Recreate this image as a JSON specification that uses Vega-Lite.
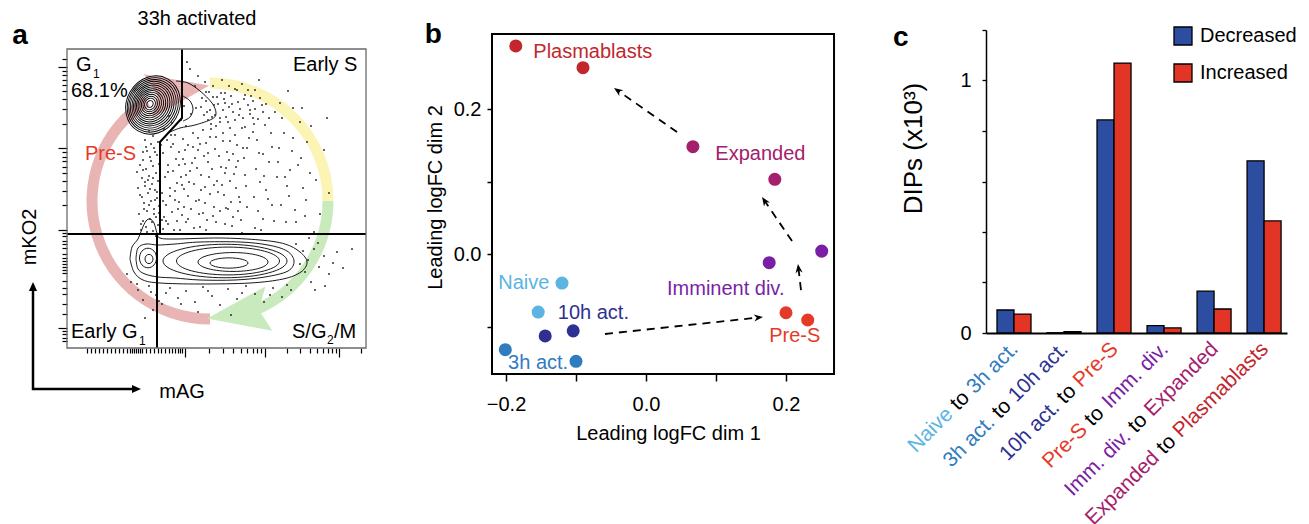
{
"$schema": "https://vega.github.io/schema/vega-lite/v6.json",
"padding": {"left": 12, "top": 8, "right": 5, "bottom": 5},
"bounds": "flush",
"spacing": 126,
"config": {"font": "Liberation Sans", "view": {"stroke": null},
  "axis": {"labelColor": "black", "titleColor": "black", "tickColor": "black", "domainColor": "black", "grid": false, "titleFontWeight": "normal", "labelFontSize": 20, "titleFontSize": 20}},
"resolve": {"scale": {"color": "independent", "fill": "independent", "shape": "independent", "size": "independent", "angle": "independent"}},
"datasets": {
 "a_arcs": [{"x":143,"y":147,"phase":"pre","t0":3.1416,"t1":5.72},{"x":143,"y":147,"phase":"s","t0":0,"t1":1.5708},{"x":143,"y":147,"phase":"g2","t0":1.5708,"t1":2.75}],
 "a_heads": [{"x":111.5,"y":257,"phase":"pre","ang":350},{"x":171,"y":34.5,"phase":"g2","ang":171}],
 "a_ell": [
  {"x":86,"y":243,"w":60,"kind":"g1","ang":300},{"x":85.8,"y":243.1,"w":56,"kind":"g1","ang":300},{"x":85.5,"y":243.2,"w":52,"kind":"g1","ang":300},{"x":85.2,"y":243.3,"w":48,"kind":"g1","ang":300},{"x":85,"y":243.4,"w":44,"kind":"g1","ang":300},{"x":84.7,"y":243.5,"w":40,"kind":"g1","ang":300},{"x":84.4,"y":243.6,"w":36,"kind":"g1","ang":300},{"x":84.1,"y":243.7,"w":32,"kind":"g1","ang":300},{"x":83.8,"y":243.8,"w":28,"kind":"g1","ang":300},{"x":83.6,"y":243.9,"w":24,"kind":"g1","ang":300},{"x":83.4,"y":244,"w":20,"kind":"g1","ang":300},{"x":83.2,"y":244,"w":16,"kind":"g1","ang":300},{"x":83,"y":244,"w":12,"kind":"g1","ang":300},{"x":83,"y":244,"w":7,"kind":"g1","ang":300},
  {"x":162,"y":85,"w":38,"kind":"flat","ang":0},{"x":166,"y":86,"w":70,"kind":"flat","ang":0},{"x":161,"y":87,"w":103,"kind":"flat","ang":0},{"x":158,"y":87,"w":124,"kind":"flat","ang":0},
  {"x":82,"y":89,"w":8,"kind":"tall","ang":0},{"x":81,"y":90,"w":17,"kind":"tall","ang":0}],
 "a_cont": [
  {"id":"l1","k":0,"x":109,"y":267},{"id":"l1","k":1,"x":121,"y":265},{"id":"l1","k":2,"x":133,"y":257},{"id":"l1","k":3,"x":145,"y":245},{"id":"l1","k":4,"x":149,"y":235},{"id":"l1","k":5,"x":145,"y":229},{"id":"l1","k":6,"x":128,"y":223},{"id":"l1","k":7,"x":113,"y":220},{"id":"l1","k":8,"x":101,"y":215},
  {"id":"l2","k":0,"x":116,"y":252},{"id":"l2","k":1,"x":123,"y":247},{"id":"l2","k":2,"x":126,"y":239},{"id":"l2","k":3,"x":123,"y":231},{"id":"l2","k":4,"x":116,"y":227},
  {"id":"e1","k":0,"x":69,"y":89},{"id":"e1","k":1,"x":71,"y":100},{"id":"e1","k":2,"x":79,"y":104},{"id":"e1","k":3,"x":91,"y":103},{"id":"e1","k":4,"x":108,"y":104},{"id":"e1","k":5,"x":133,"y":106},{"id":"e1","k":6,"x":173,"y":106},{"id":"e1","k":7,"x":201,"y":103},{"id":"e1","k":8,"x":220,"y":97},{"id":"e1","k":9,"x":227,"y":87},{"id":"e1","k":10,"x":221,"y":77},{"id":"e1","k":11,"x":198,"y":71},{"id":"e1","k":12,"x":168,"y":68},{"id":"e1","k":13,"x":133,"y":68},{"id":"e1","k":14,"x":108,"y":70},{"id":"e1","k":15,"x":91,"y":71},{"id":"e1","k":16,"x":78,"y":74},{"id":"e1","k":17,"x":71,"y":79},{"id":"e1","k":18,"x":69,"y":89},
  {"id":"e2","k":0,"x":63,"y":89},{"id":"e2","k":1,"x":65,"y":101},{"id":"e2","k":2,"x":71,"y":109},{"id":"e2","k":3,"x":75,"y":119},{"id":"e2","k":4,"x":79,"y":127},{"id":"e2","k":5,"x":83,"y":129},{"id":"e2","k":6,"x":87,"y":125},{"id":"e2","k":7,"x":90,"y":115},{"id":"e2","k":8,"x":93,"y":110},{"id":"e2","k":9,"x":108,"y":109},{"id":"e2","k":10,"x":153,"y":110},{"id":"e2","k":11,"x":193,"y":108},{"id":"e2","k":12,"x":218,"y":104},{"id":"e2","k":13,"x":233,"y":96},{"id":"e2","k":14,"x":240,"y":86},{"id":"e2","k":15,"x":234,"y":76},{"id":"e2","k":16,"x":216,"y":69},{"id":"e2","k":17,"x":183,"y":65},{"id":"e2","k":18,"x":133,"y":64},{"id":"e2","k":19,"x":93,"y":65},{"id":"e2","k":20,"x":76,"y":68},{"id":"e2","k":21,"x":67,"y":76},{"id":"e2","k":22,"x":63,"y":89}],
 "a_dots": [
  {"x":74,"y":118},{"x":79,"y":121},{"x":86,"y":117},{"x":91,"y":123},{"x":76,"y":127},{"x":83,"y":129},{"x":89,"y":131},{"x":72,"y":134},{"x":80,"y":137},{"x":87,"y":139},{"x":92,"y":142},{"x":77,"y":145},{"x":84,"y":147},{"x":90,"y":150},{"x":73,"y":153},{"x":81,"y":155},{"x":88,"y":158},{"x":78,"y":162},{"x":85,"y":164},{"x":91,"y":167},{"x":75,"y":170},{"x":82,"y":172},{"x":89,"y":175},{"x":79,"y":179},{"x":86,"y":182},{"x":92,"y":184},{"x":76,"y":188},{"x":83,"y":191},{"x":90,"y":193},{"x":80,"y":197},{"x":87,"y":200},{"x":84,"y":204},{"x":78,"y":208},{"x":91,"y":206},{"x":71,"y":160},{"x":70,"y":176},{"x":93,"y":160},{"x":93,"y":196},{"x":86,"y":212},{"x":82,"y":217},
  {"x":96,"y":119},{"x":101,"y":124},{"x":97,"y":131},{"x":105,"y":136},{"x":99,"y":143},{"x":108,"y":148},{"x":95,"y":155},{"x":103,"y":160},{"x":110,"y":165},{"x":98,"y":171},{"x":106,"y":177},{"x":101,"y":183},{"x":109,"y":189},{"x":96,"y":195},{"x":104,"y":201},{"x":100,"y":208},{"x":108,"y":213},{"x":97,"y":219},{"x":105,"y":225},{"x":102,"y":232},
  {"x":113,"y":118},{"x":119,"y":126},{"x":115,"y":133},{"x":124,"y":139},{"x":112,"y":146},{"x":121,"y":152},{"x":117,"y":159},{"x":127,"y":164},{"x":114,"y":171},{"x":123,"y":177},{"x":118,"y":184},{"x":128,"y":190},{"x":112,"y":196},{"x":121,"y":203},{"x":116,"y":209},{"x":126,"y":215},{"x":119,"y":222},{"x":114,"y":228},{"x":124,"y":234},{"x":129,"y":240},{"x":117,"y":242},
  {"x":133,"y":121},{"x":140,"y":128},{"x":136,"y":135},{"x":147,"y":141},{"x":132,"y":148},{"x":143,"y":154},{"x":138,"y":161},{"x":150,"y":167},{"x":134,"y":173},{"x":145,"y":179},{"x":141,"y":186},{"x":152,"y":192},{"x":131,"y":198},{"x":139,"y":205},{"x":149,"y":211},{"x":136,"y":218},{"x":144,"y":224},{"x":153,"y":230},{"x":140,"y":236},{"x":147,"y":243},{"x":135,"y":250},{"x":142,"y":256},{"x":150,"y":251},
  {"x":158,"y":124},{"x":166,"y":131},{"x":161,"y":139},{"x":173,"y":146},{"x":157,"y":153},{"x":169,"y":160},{"x":163,"y":167},{"x":178,"y":173},{"x":159,"y":180},{"x":171,"y":187},{"x":166,"y":194},{"x":180,"y":200},{"x":156,"y":207},{"x":168,"y":213},{"x":175,"y":220},{"x":161,"y":226},{"x":172,"y":233},{"x":183,"y":238},{"x":165,"y":244},{"x":177,"y":249},{"x":158,"y":255},{"x":170,"y":258},{"x":184,"y":252},
  {"x":188,"y":120},{"x":196,"y":129},{"x":191,"y":137},{"x":205,"y":143},{"x":187,"y":151},{"x":199,"y":158},{"x":193,"y":166},{"x":210,"y":171},{"x":189,"y":179},{"x":202,"y":186},{"x":196,"y":194},{"x":212,"y":200},{"x":190,"y":208},{"x":204,"y":215},{"x":198,"y":223},{"x":186,"y":230},{"x":208,"y":236},{"x":195,"y":243},{"x":213,"y":245},
  {"x":219,"y":126},{"x":228,"y":138},{"x":222,"y":152},{"x":236,"y":160},{"x":218,"y":171},{"x":231,"y":183},{"x":225,"y":197},{"x":240,"y":206},{"x":217,"y":215},{"x":233,"y":226},{"x":226,"y":240},{"x":243,"y":175},{"x":238,"y":132},{"x":221,"y":257},
  {"x":123,"y":279},{"x":131,"y":272},{"x":138,"y":266},{"x":146,"y":262},{"x":155,"y":268},{"x":162,"y":262},{"x":128,"y":262},{"x":175,"y":264},{"x":188,"y":258},{"x":192,"y":268},{"x":120,"y":286},
  {"x":71,"y":58},{"x":76,"y":48},{"x":82,"y":62},{"x":89,"y":53},{"x":95,"y":44},{"x":103,"y":60},{"x":111,"y":50},{"x":119,"y":57},{"x":128,"y":46},{"x":136,"y":61},{"x":145,"y":52},{"x":153,"y":43},{"x":161,"y":59},{"x":170,"y":49},{"x":179,"y":62},{"x":188,"y":54},{"x":197,"y":46},{"x":206,"y":60},{"x":215,"y":51},{"x":224,"y":58},{"x":86,"y":38},{"x":131,"y":36},{"x":164,"y":33},{"x":78,"y":30},
  {"x":229,"y":104},{"x":236,"y":97},{"x":241,"y":88},{"x":247,"y":99},{"x":252,"y":81},{"x":257,"y":92},{"x":262,"y":74},{"x":266,"y":85},{"x":238,"y":76},{"x":244,"y":66},{"x":251,"y":105},{"x":270,"y":96},{"x":233,"y":84},{"x":258,"y":62},{"x":276,"y":80},{"x":285,"y":99},{"x":248,"y":58},{"x":242,"y":110},{"x":64,"y":66},{"x":60,"y":74},
  {"x":134,"y":241},{"x":137,"y":233},{"x":139,"y":247},{"x":141,"y":228},{"x":143,"y":238},{"x":146,"y":251},{"x":148,"y":233},{"x":151,"y":244},{"x":153,"y":226},{"x":156,"y":238},{"x":157,"y":249},{"x":159,"y":231},{"x":162,"y":241},{"x":164,"y":252},{"x":166,"y":236},{"x":168,"y":228},{"x":171,"y":246},{"x":173,"y":239},{"x":176,"y":230},{"x":178,"y":253},{"x":181,"y":243},{"x":183,"y":234},{"x":186,"y":247},{"x":188,"y":239},{"x":191,"y":229},{"x":193,"y":250},{"x":144,"y":219},{"x":149,"y":222},{"x":163,"y":220},{"x":178,"y":221},{"x":187,"y":224},{"x":196,"y":236},{"x":199,"y":244},{"x":202,"y":230},{"x":139,"y":256},{"x":154,"y":255},{"x":168,"y":259},{"x":181,"y":258},{"x":145,"y":231},{"x":158,"y":245},
  {"x":99,"y":127},{"x":103,"y":152},{"x":107,"y":118},{"x":111,"y":139},{"x":115,"y":163},{"x":118,"y":198},{"x":121,"y":129},{"x":125,"y":185},{"x":129,"y":147},{"x":131,"y":210},{"x":134,"y":158},{"x":137,"y":192},{"x":139,"y":118},{"x":142,"y":171},{"x":146,"y":132},{"x":148,"y":199},{"x":151,"y":156},{"x":154,"y":181},{"x":156,"y":215},{"x":159,"y":140},{"x":162,"y":188},{"x":165,"y":122},{"x":167,"y":174},{"x":170,"y":203},{"x":172,"y":151},{"x":174,"y":128},{"x":177,"y":190},{"x":179,"y":162},{"x":182,"y":210},{"x":101,"y":176},{"x":106,"y":204},{"x":112,"y":183},{"x":117,"y":141},{"x":122,"y":166},{"x":127,"y":120},{"x":133,"y":204},{"x":138,"y":145},{"x":143,"y":211},{"x":149,"y":126},{"x":155,"y":163},{"x":160,"y":196},{"x":164,"y":146},{"x":169,"y":181},{"x":175,"y":115},{"x":180,"y":141},{"x":104,"y":213},{"x":110,"y":127},{"x":116,"y":189},{"x":126,"y":201},{"x":132,"y":134},{"x":141,"y":195},{"x":147,"y":163},{"x":153,"y":137},{"x":158,"y":175},{"x":163,"y":207},{"x":171,"y":137},{"x":176,"y":200},{"x":108,"y":157},{"x":119,"y":173},{"x":130,"y":180},
  {"x":74,"y":124},{"x":77,"y":139},{"x":75,"y":151},{"x":78,"y":166},{"x":73,"y":183},{"x":76,"y":196},{"x":80,"y":116},{"x":82,"y":143},{"x":85,"y":126},{"x":88,"y":148},{"x":81,"y":168},{"x":84,"y":187},{"x":87,"y":134},{"x":90,"y":156},{"x":93,"y":178},{"x":95,"y":128},{"x":96,"y":147},{"x":94,"y":203},{"x":89,"y":112},{"x":79,"y":201},{"x":86,"y":170},{"x":92,"y":135},{"x":83,"y":159},{"x":76,"y":178},{"x":88,"y":196},
  {"x":186,"y":216},{"x":192,"y":195},{"x":197,"y":172},{"x":201,"y":149},{"x":207,"y":127},{"x":211,"y":186},{"x":215,"y":230},{"x":220,"y":162},{"x":226,"y":210},{"x":229,"y":126},{"x":234,"y":190},{"x":239,"y":148},{"x":244,"y":222},{"x":249,"y":168},{"x":253,"y":134},{"x":257,"y":198},{"x":262,"y":155},{"x":205,"y":201},{"x":214,"y":143},{"x":223,"y":178},{"x":247,"y":116},{"x":260,"y":230},{"x":235,"y":240},{"x":194,"y":118},
  {"x":70,"y":64},{"x":84,"y":56},{"x":99,"y":55},{"x":114,"y":44},{"x":141,"y":57},{"x":175,"y":55},{"x":203,"y":53},{"x":220,"y":63},{"x":92,"y":47}],
 "a_gate": [{"id":"h","k":0,"x":0,"y":114},{"id":"h","k":1,"x":299,"y":114},{"id":"u","k":0,"x":115,"y":299},{"id":"u","k":1,"x":115,"y":230},{"id":"u","k":2,"x":93,"y":206},{"id":"u","k":3,"x":93,"y":114},{"id":"l","k":0,"x":90,"y":114},{"id":"l","k":1,"x":90,"y":0}],
 "a_box": [{"x":0,"y":0,"x2":299,"y2":299}],
 "a_axarr": [{"k":0,"x":-34,"y":60},{"k":1,"x":-34,"y":-41},{"k":2,"x":68,"y":-41}],
 "a_axhead": [{"x":-34,"y":66,"ang":270},{"x":74,"y":-41,"ang":0}],
 "a_t20": [{"x":9,"y":283,"t":"G"},{"x":4,"y":257,"t":"68.1%"},{"x":226,"y":283,"t":"Early S"},{"x":4,"y":16,"t":"Early G"},{"x":225,"y":16,"t":"S/G"},{"x":267,"y":16,"t":"/M"}],
 "a_tc": [{"x":130,"y":329,"t":"33h activated"},{"x":115,"y":-44,"t":"mAG"}],
 "a_sub": [{"x":26,"y":274,"t":"1"},{"x":72,"y":7,"t":"1"},{"x":260,"y":8,"t":"2"}],
 "a_pres": [{"x":18,"y":194,"t":"Pre-S"}],
 "a_rot": [{"x":-37,"y":111,"t":"mKO2"}],
 "a_letter": [{"x":-47,"y":304,"t":"a"}],
 "b_pts": [{"x":-0.186,"y":0.287,"stage":"Plasmablasts"},{"x":-0.090,"y":0.257,"stage":"Plasmablasts"},{"x":0.067,"y":0.148,"stage":"Expanded"},{"x":0.184,"y":0.103,"stage":"Expanded"},{"x":0.176,"y":-0.012,"stage":"Imminent div."},{"x":0.251,"y":0.004,"stage":"Imminent div."},{"x":0.200,"y":-0.081,"stage":"Pre-S"},{"x":0.231,"y":-0.091,"stage":"Pre-S"},{"x":-0.120,"y":-0.040,"stage":"Naive"},{"x":-0.154,"y":-0.080,"stage":"Naive"},{"x":-0.144,"y":-0.113,"stage":"10h act."},{"x":-0.104,"y":-0.106,"stage":"10h act."},{"x":-0.201,"y":-0.132,"stage":"3h act."},{"x":-0.100,"y":-0.148,"stage":"3h act."}],
 "b_lab": [{"x":-0.161,"y":0.279,"t":"Plasmablasts","stage":"Plasmablasts"},{"x":0.099,"y":0.138,"t":"Expanded","stage":"Expanded"},{"x":0.030,"y":-0.048,"t":"Imminent div.","stage":"Imminent div."},{"x":0.176,"y":-0.113,"t":"Pre-S","stage":"Pre-S"},{"x":-0.211,"y":-0.040,"t":"Naive","stage":"Naive"},{"x":-0.126,"y":-0.081,"t":"10h act.","stage":"10h act."},{"x":-0.197,"y":-0.150,"t":"3h act.","stage":"3h act."}],
 "b_arr": [{"id":1,"k":0,"x":-0.0586,"y":-0.1103},{"id":1,"k":1,"x":0.1614,"y":-0.0875},{"id":2,"k":0,"x":0.2214,"y":-0.0497},{"id":2,"k":1,"x":0.2177,"y":-0.019},{"id":3,"k":0,"x":0.2086,"y":0.0179},{"id":3,"k":1,"x":0.1681,"y":0.0752},{"id":4,"k":0,"x":0.0443,"y":0.1683},{"id":4,"k":1,"x":-0.041,"y":0.2258}],
 "b_head": [{"x":0.1671,"y":-0.0869,"ang":354},{"x":0.2171,"y":-0.0138,"ang":263},{"x":0.1657,"y":0.0786,"ang":236},{"x":-0.0457,"y":0.229,"ang":215}],
 "b_box": [{"x":-0.22,"y":-0.1655,"x2":0.2686,"y2":0.3034}],
 "b_letter": [{"x":-0.304,"y":0.291,"t":"b"}],
 "c_bars": [{"grp":"G1","dir":"Decreased","v":0.091},{"grp":"G1","dir":"Increased","v":0.075},{"grp":"G2","dir":"Decreased","v":0.001},{"grp":"G2","dir":"Increased","v":0.005},{"grp":"G3","dir":"Decreased","v":0.844},{"grp":"G3","dir":"Increased","v":1.069},{"grp":"G4","dir":"Decreased","v":0.029},{"grp":"G4","dir":"Increased","v":0.02},{"grp":"G5","dir":"Decreased","v":0.166},{"grp":"G5","dir":"Increased","v":0.095},{"grp":"G6","dir":"Decreased","v":0.682},{"grp":"G6","dir":"Increased","v":0.444}],
 "c_lab": [
  {"grp":"G1","seg":"3h act.","stage":"3h act.","shift":0},{"grp":"G1","seg":"to","stage":"to","shift":3.28},{"grp":"G1","seg":"Naive","stage":"Naive","shift":4.392},
  {"grp":"G2","seg":"10h act.","stage":"10h act.","shift":0},{"grp":"G2","seg":"to","stage":"to","shift":3.836},{"grp":"G2","seg":"3h act.","stage":"3h act.","shift":4.948},
  {"grp":"G3","seg":"Pre-S","stage":"Pre-S","shift":0},{"grp":"G3","seg":"to","stage":"to","shift":2.834},{"grp":"G3","seg":"10h act.","stage":"10h act.","shift":3.946},
  {"grp":"G4","seg":"Imm. div.","stage":"Imminent div.","shift":0},{"grp":"G4","seg":"to","stage":"to","shift":4.334},{"grp":"G4","seg":"Pre-S","stage":"Pre-S","shift":5.446},
  {"grp":"G5","seg":"Expanded","stage":"Expanded","shift":0},{"grp":"G5","seg":"to","stage":"to","shift":4.781},{"grp":"G5","seg":"Imm. div.","stage":"Imminent div.","shift":5.893},
  {"grp":"G6","seg":"Plasmablasts","stage":"Plasmablasts","shift":0},{"grp":"G6","seg":"to","stage":"to","shift":6.224},{"grp":"G6","seg":"Expanded","stage":"Expanded","shift":7.336}]
},
"hconcat": [
 {
  "width": 299, "height": 318,
  "encoding": {
   "x": {"field": "x", "type": "quantitative", "scale": {"domain": [0, 299], "nice": false, "zero": false},
     "axis": {"values": [20,24,28,32,36,40,44,48,52,56,60,63,65,67,69,71,73,75,79,83,87,91,94,98,102,105,108,111,113,115,118,142,156,166,174,180,186,190,194,198,220,233,243,250,256,261,265,269,272,294], "labels": false, "domain": false, "title": null, "tickWidth": 1.2,
       "tickSize": {"condition": {"test": "indexof([118,198,272], datum.value) >= 0", "value": 9}, "value": 5}}},
   "y": {"field": "y", "type": "quantitative", "scale": {"domain": [0, 318], "nice": false, "zero": false},
     "axis": {"values": [289,281,277.2,273.1,268.5,263,256.6,248.8,238.6,224.4,200,195.6,191.4,186.8,181.4,174.9,167.1,156.9,142.7,118,115,112,107,104,100,94,90,87,84,81,78,75,67,60,54,44,34,20,17,14,10,7], "labels": false, "domain": false, "title": null, "tickWidth": 1.2,
       "tickSize": {"condition": {"test": "indexof([281,200,118,20], datum.value) >= 0", "value": 9}, "value": 5}}}
  },
  "layer": [
   {"data": {"name": "a_arcs"}, "mark": {"type": "arc", "radius": 123.5, "radius2": 112.5},
    "encoding": {"theta": {"field": "t0", "type": "quantitative", "scale": null, "stack": null}, "theta2": {"field": "t1"},
     "fill": {"field": "phase", "type": "nominal", "scale": {"domain": ["pre","s","g2"], "range": ["#e8b4b4","#fbf4b5","#c8eabd"]}, "legend": null}}},
   {"data": {"name": "a_heads"}, "mark": {"type": "point", "shape": "M1,0L-1,-0.72L-0.68,0L-1,0.72Z", "filled": true, "size": 3900, "opacity": 1, "strokeWidth": 0},
    "encoding": {"angle": {"field": "ang", "type": "quantitative", "scale": {"domain": [0,360], "range": [0,360]}},
     "fill": {"field": "phase", "type": "nominal", "scale": {"domain": ["pre","s","g2"], "range": ["#e8b4b4","#fbf4b5","#c8eabd"]}, "legend": null}}},
   {"data": {"name": "a_ell"}, "mark": {"type": "point", "filled": false, "color": "black", "strokeWidth": 0.9, "opacity": 1},
    "encoding": {"shape": {"field": "kind", "type": "nominal", "scale": {"domain": ["g1","flat","tall"], "range": ["M-1,0A1,0.88,0,1,0,1,0A1,0.88,0,1,0,-1,0Z","M-1,0A1,0.27,0,1,0,1,0A1,0.27,0,1,0,-1,0Z","M-1,0A1,1.15,0,1,0,1,0A1,1.15,0,1,0,-1,0Z"]}, "legend": null},
     "size": {"field": "w", "type": "quantitative", "scale": {"type": "pow", "exponent": 2, "domain": [0,200], "range": [0,40000]}, "legend": null},
     "angle": {"field": "ang", "type": "quantitative", "scale": {"domain": [0,360], "range": [0,360]}}}},
   {"data": {"name": "a_cont"}, "mark": {"type": "line", "color": "black", "strokeWidth": 0.9, "interpolate": "cardinal"},
    "encoding": {"detail": {"field": "id"}, "order": {"field": "k"}}},
   {"data": {"name": "a_dots"}, "mark": {"type": "point", "filled": true, "color": "#222222", "size": 3.5, "opacity": 1, "strokeWidth": 0}},
   {"data": {"name": "a_gate"}, "mark": {"type": "line", "color": "black", "strokeWidth": 2},
    "encoding": {"detail": {"field": "id"}, "order": {"field": "k"}}},
   {"data": {"name": "a_box"}, "mark": {"type": "rect", "filled": false, "color": "#6b6b6b", "strokeWidth": 1.3},
    "encoding": {"x2": {"field": "x2"}, "y2": {"field": "y2"}}},
   {"data": {"name": "a_axarr"}, "mark": {"type": "line", "color": "black", "strokeWidth": 2.5},
    "encoding": {"order": {"field": "k"}}},
   {"data": {"name": "a_axhead"}, "mark": {"type": "point", "shape": "M0,0L-2,-0.9L-2,0.9Z", "filled": true, "color": "black", "size": 81, "opacity": 1, "strokeWidth": 0},
    "encoding": {"angle": {"field": "ang", "type": "quantitative", "scale": {"domain": [0,360], "range": [0,360]}}}},
   {"data": {"name": "a_t20"}, "mark": {"type": "text", "align": "left", "baseline": "middle", "fontSize": 20, "color": "black"}, "encoding": {"text": {"field": "t"}}},
   {"data": {"name": "a_tc"}, "mark": {"type": "text", "align": "center", "baseline": "middle", "fontSize": 20, "color": "black"}, "encoding": {"text": {"field": "t"}}},
   {"data": {"name": "a_sub"}, "mark": {"type": "text", "align": "left", "baseline": "middle", "fontSize": 12, "color": "black"}, "encoding": {"text": {"field": "t"}}},
   {"data": {"name": "a_pres"}, "mark": {"type": "text", "align": "left", "baseline": "middle", "fontSize": 20, "color": "#e63a28"}, "encoding": {"text": {"field": "t"}}},
   {"data": {"name": "a_rot"}, "mark": {"type": "text", "align": "center", "baseline": "middle", "fontSize": 20, "angle": 270, "color": "black"}, "encoding": {"text": {"field": "t"}}},
   {"data": {"name": "a_letter"}, "mark": {"type": "text", "align": "center", "baseline": "alphabetic", "fontSize": 28, "fontWeight": "bold", "color": "black"}, "encoding": {"text": {"field": "t"}}}
  ]
 },
 {
  "width": 368, "height": 344,
  "encoding": {
   "x": {"field": "x", "type": "quantitative", "scale": {"domain": [-0.22, 0.3057], "nice": false, "zero": false},
     "axis": {"values": [-0.2,-0.1,0,0.1,0.2], "labelExpr": "datum.value == 0 ? '0.0' : (abs(datum.value) > 0.15 ? format(datum.value, '.1f') : '')", "domain": false, "tickSize": 7, "tickWidth": 1.5, "labelPadding": 13, "title": "Leading logFC dim 1", "titlePadding": 9, "titleX": 176}},
   "y": {"field": "y", "type": "quantitative", "scale": {"domain": [-0.1655, 0.309], "nice": false, "zero": false},
     "axis": {"values": [-0.1,0,0.1,0.2], "labelExpr": "datum.value == 0 ? '0.0' : (datum.value > 0.15 ? '0.2' : '')", "domain": false, "tickSize": 5, "tickWidth": 1.5, "labelPadding": 6, "title": "Leading logFC dim 2", "titlePadding": 8, "titleY": 167}}
  },
  "layer": [
   {"data": {"name": "b_box"}, "mark": {"type": "rect", "filled": false, "color": "black", "strokeWidth": 2},
    "encoding": {"x2": {"field": "x2"}, "y2": {"field": "y2"}}},
   {"data": {"name": "b_arr"}, "mark": {"type": "line", "color": "black", "strokeWidth": 1.8, "strokeDash": [8, 6]},
    "encoding": {"detail": {"field": "id"}, "order": {"field": "k"}}},
   {"data": {"name": "b_head"}, "mark": {"type": "point", "shape": "M0,0L-2,-0.8L-1.4,0L-2,0.8Z", "filled": true, "color": "black", "size": 81, "opacity": 1, "strokeWidth": 0},
    "encoding": {"angle": {"field": "ang", "type": "quantitative", "scale": {"domain": [0,360], "range": [0,360]}}}},
   {"data": {"name": "b_pts"}, "mark": {"type": "point", "filled": true, "size": 170, "opacity": 1, "strokeWidth": 0},
    "encoding": {"color": {"field": "stage", "type": "nominal", "scale": {"domain": ["Naive","3h act.","10h act.","Pre-S","Imminent div.","Expanded","Plasmablasts","to"], "range": ["#5bb4e2","#2f7cc0","#2e3192","#e63a28","#7a1fa5","#a4206d","#c1272d","#000000"]}, "legend": null}}},
   {"data": {"name": "b_lab"}, "mark": {"type": "text", "align": "left", "baseline": "middle", "fontSize": 20},
    "encoding": {"text": {"field": "t"}, "color": {"field": "stage", "type": "nominal", "scale": {"domain": ["Naive","3h act.","10h act.","Pre-S","Imminent div.","Expanded","Plasmablasts","to"], "range": ["#5bb4e2","#2f7cc0","#2e3192","#e63a28","#7a1fa5","#a4206d","#c1272d","#000000"]}, "legend": null}}},
   {"data": {"name": "b_letter"}, "mark": {"type": "text", "align": "center", "baseline": "alphabetic", "fontSize": 28, "fontWeight": "bold", "color": "black"}, "encoding": {"text": {"field": "t"}}}
  ]
 },
 {
  "width": 301, "height": 303,
  "title": {"text": "c", "anchor": "start", "frame": "group", "dx": -93, "offset": -48, "fontSize": 28, "fontWeight": "bold", "baseline": "alphabetic", "color": "black"},
  "encoding": {
   "x": {"field": "grp", "type": "nominal", "scale": {"paddingInner": 0.32, "paddingOuter": 0.169, "align": 0.65},
     "axis": {"domain": true, "domainWidth": 2, "ticks": false, "labels": false, "title": null}}
  },
  "layer": [
   {"data": {"name": "c_bars"}, "mark": {"type": "bar", "stroke": "black", "strokeWidth": 1.3},
    "encoding": {
     "xOffset": {"field": "dir", "type": "nominal", "scale": {"paddingInner": 0, "paddingOuter": 0}},
     "y": {"field": "v", "type": "quantitative", "scale": {"domain": [0, 1.2], "nice": false},
       "axis": {"values": [0,0.2,0.4,0.6,0.8,1,1.2], "labelExpr": "datum.value == 0 ? '0' : (datum.value == 1 ? '1' : '')", "tickSize": 4, "tickWidth": 1.3, "labelPadding": 11, "domainWidth": 1.5,
         "title": "DIPs (x10³)", "titleFontSize": 26, "titleX": -73, "titleY": 118, "titleAngle": 270, "titleAlign": "center", "titleBaseline": "middle"}},
     "fill": {"field": "dir", "type": "nominal", "scale": {"domain": ["Decreased","Increased"], "range": ["#2c4da0","#e23525"]},
       "legend": {"orient": "none", "legendX": 187, "legendY": -4, "title": null, "symbolType": "square", "symbolSize": 324, "symbolStrokeColor": "black", "symbolStrokeWidth": 1.3, "labelFontSize": 20, "labelOffset": 7, "rowPadding": 13, "padding": 0, "labelColor": "black"}}}},
   {"data": {"name": "c_lab"}, "mark": {"type": "text", "align": "right", "baseline": "middle", "angle": 315, "fontSize": 21},
    "encoding": {
     "xOffset": {"field": "shift", "type": "quantitative", "scale": {"domain": [0, 10], "range": [18, -130.5]}},
     "y": {"datum": 0, "type": "quantitative"},
     "yOffset": {"field": "shift", "type": "quantitative", "scale": {"domain": [0, 10], "range": [13, 161.5]}},
     "text": {"field": "seg"},
     "color": {"field": "stage", "type": "nominal", "scale": {"domain": ["Naive","3h act.","10h act.","Pre-S","Imminent div.","Expanded","Plasmablasts","to"], "range": ["#5bb4e2","#2f7cc0","#2e3192","#e63a28","#7a1fa5","#a4206d","#c1272d","#000000"]}, "legend": null}}}
  ],
  "resolve": {"scale": {"xOffset": "independent", "yOffset": "independent"}}
 }
]
}
